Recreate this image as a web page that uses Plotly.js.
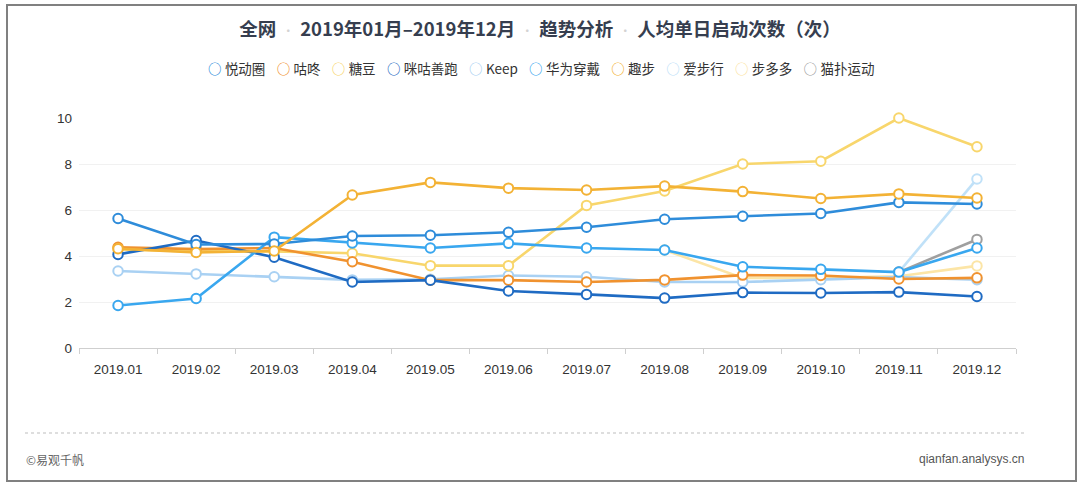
<!DOCTYPE html>
<html>
<head>
<meta charset="utf-8">
<script src="https://cdn.plot.ly/plotly-3.0.1.min.js"></script>
<style>
html,body{margin:0;padding:0;background:#fff;}
#chart{width:1080px;height:487px;}
</style>
</head>
<body>
<div id="chart"></div>
<script>
const months = ['2019.01','2019.02','2019.03','2019.04','2019.05','2019.06','2019.07','2019.08','2019.09','2019.10','2019.11','2019.12'];

const yuedongquan = [5.63, 4.50, 4.52, 4.87, 4.90, 5.03, 5.25, 5.60, 5.73, 5.85, 6.33, 6.26];
const gudong      = [4.38, 4.30, 4.35, 3.75, 2.95, 2.95, 2.87, 2.96, 3.17, 3.15, 3.00, 3.05];
const tangdou     = [4.30, 4.20, 4.20, 4.12, 3.58, 3.58, 6.20, 6.83, 8.00, 8.12, 10.00, 8.75];
const miguShanpao = [4.07, 4.67, 3.95, 2.87, 2.95, 2.48, 2.33, 2.17, 2.41, 2.39, 2.43, 2.24];
const keep        = [3.35, 3.22, 3.10, 2.96, 2.99, 3.15, 3.10, 2.87, 2.87, 2.97, 3.08, 2.97];
const huawei      = [1.85, 2.15, 4.82, 4.57, 4.35, 4.55, 4.35, 4.26, 3.53, 3.42, 3.30, 4.35];
const qubu        = [4.32, 4.15, 4.22, 6.65, 7.20, 6.95, 6.87, 7.04, 6.80, 6.50, 6.70, 6.52];
const aibuxing    = [null, null, null, null, null, null, null, null, null, null, 3.30, 7.35];
const buduoduo    = [null, null, null, null, null, null, null, 4.26, 3.05, 3.05, 3.12, 3.57];
const maopu       = [null, null, null, null, null, null, null, null, null, null, 3.30, 4.72];

const seriesNames = ['悦动圈','咕咚','糖豆','咪咕善跑','Keep','华为穿戴','趣步','爱步行','步多多','猫扑运动'];
const seriesValues = [yuedongquan, gudong, tangdou, miguShanpao, keep, huawei, qubu, aibuxing, buduoduo, maopu];
const seriesColors = ['#2e8cda','#f0922f','#f8d66c','#1f6bc3','#a9d1f3','#39a7ef','#f3b235','#c0e1f8','#fce5a6','#9f9f9f'];

// draw order (bottom to top)
const drawOrder = [8, 7, 9, 4, 2, 1, 3, 5, 0, 6];

const traces = drawOrder.map(i => ({
  type: 'scatter', mode: 'lines+markers', name: seriesNames[i],
  x: months, y: seriesValues[i],
  line: {color: seriesColors[i], width: 2.6},
  marker: {symbol: 'circle', size: 9.5, color: '#ffffff', line: {color: seriesColors[i], width: 2}},
  connectgaps: false, showlegend: false, cliponaxis: false, hoverinfo: 'x+y+name'
}));

// legend drawn as one line of real text: coloured circle + name per series
const legendText = seriesNames.map((n, i) =>
  '<span style="color:' + seriesColors[i] + ';font-weight:bold;">○</span>&#8197;' + n
).join('&#8194;&#8196;');

const dot = '<span style="color:#d3d3d3;font-size:12px;">&#8194;•&#8194;</span>';
const titleText = '<b>全网</b>' + dot + '<b>2019年01月–2019年12月</b>' + dot + '<b>趋势分析</b>' + dot + '<b>人均单日启动次数（次）</b>';

const W = 1080, H = 487, L = 79, R = 1016, T = 118, B = 348;
const px = v => (v - L) / (R - L);
const py = v => (B - v) / (B - T);

const layout = {
  width: W, height: H,
  margin: {l: L, r: W - R, t: T, b: H - B, pad: 0},
  paper_bgcolor: '#ffffff', plot_bgcolor: '#ffffff',
  font: {family: '"Liberation Sans", "Noto Sans CJK SC", sans-serif', color: '#333333', size: 12},
  showlegend: false,
  title: {
    text: titleText, xref: 'container', yref: 'container', x: 0.5, xanchor: 'center',
    y: 1 - 30 / H, yanchor: 'middle',
    font: {family: '"Noto Sans CJK SC", sans-serif', size: 18.5, color: '#363e4f'}
  },
  xaxis: {
    type: 'category', range: [-0.5, 11.5], autorange: false, showgrid: false, zeroline: false,
    showline: true, linecolor: '#cfcfcf', linewidth: 1,
    ticks: 'outside', tickson: 'boundaries', ticklen: 5, tickcolor: '#cfcfcf', tickwidth: 1,
    ticklabelstandoff: 9,
    tickfont: {size: 13.5, color: '#333333'}, fixedrange: true
  },
  yaxis: {
    range: [0, 10], autorange: false, dtick: 2, tick0: 0, showgrid: true, gridcolor: '#f1f1f1', gridwidth: 1,
    zeroline: false, showline: false, ticks: '', ticklabelstandoff: 6,
    tickfont: {size: 13.5, color: '#333333'}, fixedrange: true
  },
  shapes: [
    {type: 'rect', xref: 'paper', yref: 'paper', x0: px(7), x1: px(1076), y0: py(481), y1: py(5),
     line: {color: '#808080', width: 2}, fillcolor: 'rgba(0,0,0,0)', layer: 'above'},
    {type: 'line', xref: 'paper', yref: 'paper', x0: px(25), x1: px(1025), y0: py(433), y1: py(433),
     line: {color: '#bdbdbd', width: 1, dash: 'dot'}}
  ],
  annotations: [
    {xref: 'paper', yref: 'paper', x: px(541), y: py(68), xanchor: 'center', yanchor: 'middle', showarrow: false,
     text: legendText, font: {family: '"Noto Sans CJK SC", sans-serif', size: 13.5, color: '#333333'}},
    {xref: 'paper', yref: 'paper', x: px(24), y: py(459), xanchor: 'left', yanchor: 'middle', showarrow: false,
     text: '©易观千帆', font: {family: '"Noto Sans CJK SC", sans-serif', size: 12, color: '#666666'}},
    {xref: 'paper', yref: 'paper', x: px(1026), y: py(459), xanchor: 'right', yanchor: 'middle', showarrow: false,
     text: 'qianfan.analysys.cn', font: {family: '"Liberation Sans", sans-serif', size: 12, color: '#555555'}}
  ]
};

Plotly.newPlot('chart', traces, layout, {displayModeBar: false});
</script>
</body>
</html>
